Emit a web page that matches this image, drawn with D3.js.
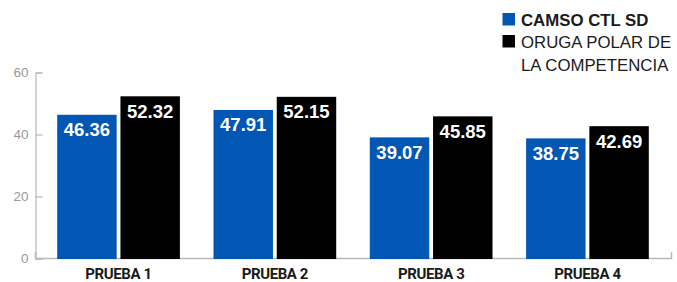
<!DOCTYPE html>
<html>
<head>
<meta charset="utf-8">
<script src="https://cdn.jsdelivr.net/npm/d3@7"></script>
<style>
  body { margin: 0; background: #fff; }
  svg { display: block; }
</style>
</head>
<body>
<div id="chart"></div>
<script>
// Data
const categories = ['PRUEBA 1', 'PRUEBA 2', 'PRUEBA 3', 'PRUEBA 4'];
const seriesNames = ['CAMSO CTL SD', 'ORUGA POLAR DE LA COMPETENCIA'];
const camsoValues = [46.36, 47.91, 39.07, 38.75];
const competitorValues = [52.32, 52.15, 45.85, 42.69];
const yTicks = [0, 20, 40, 60];

const width = 677;
const height = 282;
const colors = ['#0256b4', '#000000'];

const svg = d3.select('#chart')
    .append('svg')
    .attr('width', width)
    .attr('height', height);

// Scales
const x = d3.scaleBand()
    .domain(categories)
    .range([35, 671])
    .paddingInner(0.215)
    .paddingOuter(0.142);

const xSub = d3.scaleBand()
    .domain([0, 1])
    .range([0, x.bandwidth()])
    .paddingInner(0.06);

const y = d3.scaleLinear()
    .domain([0, 60])
    .range([258.5, 72.5]);

// Y axis
const yAxis = svg.append('g')
    .attr('transform', 'translate(35.5,0)')
    .call(d3.axisLeft(y)
        .tickValues(yTicks)
        .tickSize(-7)
        .tickSizeOuter(-7)
        .tickPadding(7));
yAxis.selectAll('path, line').attr('stroke', '#b8b8b8').attr('stroke-width', 1.2);
yAxis.selectAll('text')
    .attr('fill', '#999')
    .style('font-family', '"Liberation Sans", Arial, sans-serif')
    .style('font-size', '13.5px');

// X axis (baseline)
const xAxis = svg.append('g')
    .attr('transform', 'translate(0,258)')
    .call(d3.axisBottom(x)
        .tickSize(0)
        .tickSizeOuter(-6)
        .tickPadding(10));
xAxis.select('path').attr('stroke', '#b8b8b8').attr('stroke-width', 1.5);
xAxis.selectAll('text')
    .attr('fill', '#1a1a1a')
    .style('font-family', 'Roboto, sans-serif')
    .style('font-weight', 'bold')
    .style('font-size', '15px')
    .style('letter-spacing', '-0.4px');

// Bars
const rows = categories.map((c, i) => ({
    category: c,
    values: [camsoValues[i], competitorValues[i]]
}));

const groups = svg.append('g')
    .selectAll('g')
    .data(rows)
    .enter()
    .append('g')
    .attr('transform', d => `translate(${x(d.category)},0)`);

groups.selectAll('rect')
    .data(d => d.values.map((v, k) => ({ k, v })))
    .enter()
    .append('rect')
    .attr('x', d => xSub(d.k))
    .attr('width', xSub.bandwidth())
    .attr('y', d => y(d.v))
    .attr('height', d => y(0) + 0.5 - y(d.v))
    .attr('fill', d => colors[d.k]);

groups.selectAll('text')
    .data(d => d.values.map((v, k) => ({ k, v })))
    .enter()
    .append('text')
    .attr('x', d => xSub(d.k) + xSub.bandwidth() / 2)
    .attr('y', d => y(d.v) + 21.5)
    .attr('text-anchor', 'middle')
    .attr('fill', '#fff')
    .style('font-family', '"Liberation Sans", Arial, sans-serif')
    .style('font-weight', 'bold')
    .style('font-size', '18.5px')
    .text(d => d3.format('.2f')(d.v));

// Legend
const legend = svg.append('g').attr('transform', 'translate(502.5,0)');
legend.append('rect')
    .attr('x', 0).attr('y', 13).attr('width', 12.5).attr('height', 12.5)
    .attr('fill', colors[0]);
legend.append('rect')
    .attr('x', 0).attr('y', 35).attr('width', 12.5).attr('height', 12.5)
    .attr('fill', colors[1]);

const legendFont = '"Liberation Sans", Arial, sans-serif';
legend.append('text')
    .attr('x', 18.5).attr('y', 25.7)
    .attr('fill', '#1a1a1a')
    .style('font-family', legendFont)
    .style('font-weight', 'bold')
    .style('font-size', '16.8px')
    .text(seriesNames[0]);

const secondLines = ['ORUGA POLAR DE', 'LA COMPETENCIA'];
legend.append('text')
    .attr('fill', '#1a1a1a')
    .style('font-family', legendFont)
    .style('font-size', '16.8px')
    .selectAll('tspan')
    .data(secondLines)
    .enter()
    .append('tspan')
    .attr('x', 18.5)
    .attr('y', (d, i) => 47.7 + i * 23)
    .text(d => d);
</script>
</body>
</html>
